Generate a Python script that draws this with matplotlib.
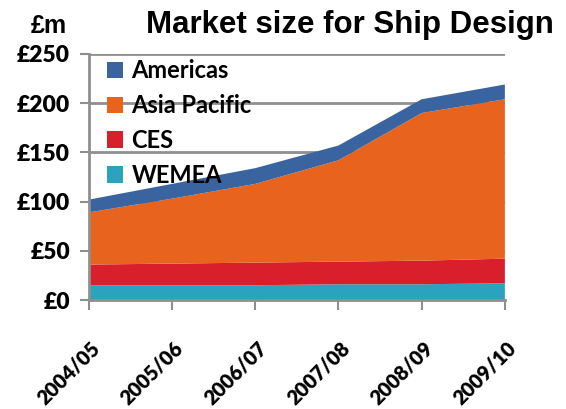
import numpy as np
import matplotlib.pyplot as plt
from matplotlib.patches import Patch
from matplotlib.transforms import ScaledTranslation

years = ['2004/05', '2005/06', '2006/07', '2007/08', '2008/09', '2009/10']
wemea = [15, 15, 15, 16, 16, 17]
ces = [21, 22, 23, 23, 24, 25]
asia_pacific = [53, 66, 80, 103, 150, 162]
americas = [13, 15, 16, 15, 14, 15]

series_names = ['WEMEA', 'CES', 'Asia Pacific', 'Americas']
colors = ['#2ba3bf', '#d91f2b', '#e8631e', '#3a64a0']
grid_col = '#8f8f8f'

fig = plt.figure(figsize=(5.66, 4.09), dpi=100)
ax = fig.add_axes([0.157, 0.2665, 0.735, 0.6015])

x = np.arange(len(years))
ax.stackplot(x, wemea, ces, asia_pacific, americas, colors=colors,
             linewidth=0, zorder=3)

ax.set_xlim(0, len(years) - 1)
ax.set_ylim(0, 250)
ax.set_yticks(range(0, 251, 50))
ax.set_yticklabels([f'£{v}' for v in range(0, 251, 50)],
                   fontfamily='Lato', fontweight='heavy', fontsize=16.5)
ax.yaxis.grid(True, color=grid_col, linewidth=2, zorder=1)
ax.set_axisbelow(True)

ax.set_xticks(x)
ax.set_xticklabels(years, rotation=45, ha='right', va='center',
                   rotation_mode='anchor', fontfamily='Lato',
                   fontweight='heavy', fontsize=14.5)
ax.tick_params(axis='x', length=7, width=1.5, color=grid_col, pad=25)
ax.tick_params(axis='y', length=6.5, width=1.5, color=grid_col, pad=7)

# nudge rotated year labels a little to the right
shift = ScaledTranslation(0.08, 0, fig.dpi_scale_trans)
for lab in ax.get_xticklabels():
    lab.set_transform(lab.get_transform() + shift)

for side in ['top', 'right']:
    ax.spines[side].set_visible(False)
for side in ['left', 'bottom']:
    ax.spines[side].set_color(grid_col)
    ax.spines[side].set_linewidth(2)
    ax.spines[side].set_zorder(4)

handles = [Patch(facecolor=colors[i], edgecolor='none') for i in [3, 2, 1, 0]]
labels = [series_names[i] for i in [3, 2, 1, 0]]
ax.legend(handles, labels, loc='upper left', bbox_to_anchor=(0.043, 0.978),
          frameon=False, prop={'family': 'Lato', 'weight': 'bold', 'size': 17},
          handlelength=0.7, handleheight=0.7, handletextpad=0.35,
          labelspacing=0.5, borderaxespad=0, borderpad=0)

fig.text(0.055, 0.919, '£m', fontfamily='Liberation Sans', fontweight='bold',
         fontsize=18, va='baseline', ha='left')
fig.text(0.618, 0.919, 'Market size for Ship Design', fontfamily='Liberation Sans',
         fontweight='bold', fontsize=22.5, va='baseline', ha='center')

fig.savefig('out.png', dpi=100)
